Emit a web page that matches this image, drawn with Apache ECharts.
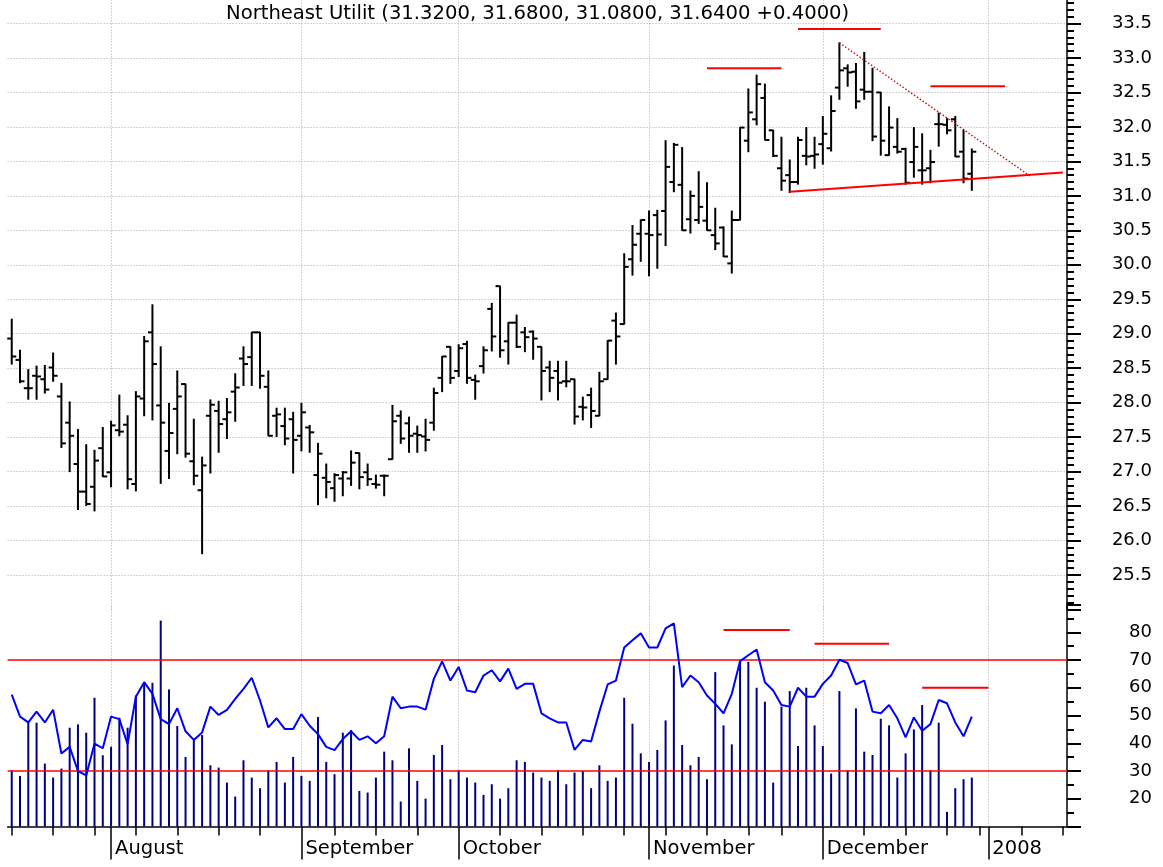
<!DOCTYPE html>
<html>
<head>
<meta charset="utf-8">
<title>Northeast Utilit</title>
<script src="https://cdn.jsdelivr.net/npm/echarts@6.0.0/dist/echarts.min.js"></script>
<style>
  html, body { margin: 0; padding: 0; background: #fff; }
  #chart { width: 1163px; height: 867px; }
</style>
</head>
<body>
<div id="chart"></div>
<script>
// 日线 OHLC + RSI / 成交量
const titleText = 'Northeast Utilit (31.3200, 31.6800, 31.0800, 31.6400 +0.4000)';

const firstDay = '2007-07-16';
const holidays = ['2007-09-03', '2007-11-22', '2007-12-25'];
const slotCount = 128; // 含右侧留白的位置数
const monthNames = ['January', 'February', 'March', 'April', 'May', 'June', 'July',
  'August', 'September', 'October', 'November', 'December'];

const open = [28.93, 28.62, 28.21, 28.39, 28.34, 28.51, 28.09, 27.71, 27.11, 26.71,
  26.78, 27.34, 26.99, 27.60, 27.68, 26.82, 28.06, 29.02, 27.96, 27.30,
  27.91, 28.27, 27.15, 26.73, 27.81, 27.88, 27.76, 28.16, 28.64, 28.66,
  29.02, 28.23, 27.81, 27.66, 27.76, 27.52, 27.64, 26.95, 26.91, 26.76,
  26.90, 26.90, 27.27, 26.99, 26.82, 26.94, 27.18, 27.81, 27.70, 27.55,
  27.51, 27.71, 28.36, 28.81, 28.46, 28.85, 28.33, 28.53, 29.36, 29.69,
  28.89, 29.16, 29.02, 29.03, 28.81, 28.51, 28.46, 28.31, 28.34, 27.94,
  28.11, 27.81, 28.34, 29.19, 29.14, 30.08, 30.45, 30.45, 30.72, 30.78,
  31.20, 31.16, 30.66, 30.65, 30.64, 30.43, 30.54, 30.02, 30.65, 31.80,
  32.11, 32.42, 31.95, 31.40, 31.30, 31.20, 31.58, 31.58, 31.75, 31.69,
  32.57, 32.85, 32.80, 32.54, 32.51, 32.50, 31.59, 31.71, 31.68, 31.49,
  31.37, 31.40, 32.04, 32.03, 32.11, 31.64, 31.32];
const high = [29.21, 28.76, 28.48, 28.53, 28.54, 28.72, 28.28, 28.01, 27.61, 27.39,
  27.31, 27.64, 27.73, 28.11, 27.81, 28.16, 28.96, 29.42, 28.81, 27.99,
  28.46, 28.27, 27.76, 27.21, 28.04, 28.02, 28.06, 28.42, 28.81, 29.02,
  29.02, 28.46, 27.92, 27.92, 27.86, 27.99, 27.67, 27.41, 27.11, 26.97,
  27.00, 27.30, 27.27, 27.11, 26.95, 26.95, 27.96, 27.88, 27.79, 27.66,
  27.76, 28.21, 28.67, 28.81, 28.84, 28.89, 28.40, 28.81, 29.44, 29.69,
  29.16, 29.27, 29.09, 29.04, 28.81, 28.60, 28.60, 28.60, 28.34, 28.08,
  28.21, 28.44, 28.90, 29.30, 30.16, 30.57, 30.65, 30.78, 30.79, 31.80,
  31.76, 31.70, 31.07, 31.35, 31.19, 30.82, 30.55, 30.78, 31.99, 32.55,
  32.75, 32.62, 31.95, 31.85, 31.52, 31.85, 31.99, 31.85, 32.15, 32.45,
  33.22, 32.90, 32.92, 33.08, 32.85, 32.50, 32.29, 32.12, 31.69, 31.99,
  31.90, 31.66, 32.20, 32.12, 32.15, 31.95, 31.68];
const low = [28.56, 28.29, 28.05, 28.05, 28.14, 28.31, 27.35, 27.00, 26.45, 26.51,
  26.43, 26.93, 26.78, 27.52, 26.75, 26.72, 27.81, 27.75, 26.83, 26.90,
  27.26, 27.21, 26.81, 25.81, 26.98, 27.28, 27.48, 27.73, 28.25, 28.25,
  28.21, 27.52, 27.51, 27.39, 26.98, 27.30, 27.28, 26.52, 26.62, 26.57,
  26.65, 26.80, 26.75, 26.80, 26.76, 26.65, 27.18, 27.41, 27.28, 27.28,
  27.30, 27.60, 28.16, 28.28, 28.38, 28.28, 28.05, 28.43, 28.75, 28.66,
  28.56, 28.80, 28.74, 28.63, 28.04, 28.16, 28.04, 28.23, 27.69, 27.75,
  27.64, 27.81, 28.34, 28.56, 29.14, 29.85, 30.05, 29.84, 29.95, 30.28,
  31.06, 30.50, 30.46, 30.60, 30.50, 30.22, 30.12, 29.88, 30.65, 31.64,
  32.03, 31.81, 31.57, 31.08, 31.05, 31.17, 31.45, 31.40, 31.46, 31.65,
  32.40, 32.59, 32.27, 32.40, 31.80, 31.59, 31.59, 31.62, 31.17, 31.27,
  31.17, 31.19, 31.72, 31.90, 31.57, 31.19, 31.08];
const close = [28.67, 28.31, 28.21, 28.38, 28.19, 28.39, 27.41, 27.52, 26.71, 26.53,
  27.16, 26.93, 27.67, 27.58, 26.89, 28.09, 28.89, 28.56, 27.71, 27.56,
  28.09, 27.26, 26.94, 27.09, 27.97, 27.69, 27.86, 28.22, 28.56, 29.02,
  28.39, 27.52, 27.83, 27.48, 27.46, 27.86, 27.57, 27.26, 26.85, 26.95,
  26.99, 27.13, 26.92, 26.89, 26.81, 26.94, 27.73, 27.48, 27.52, 27.53,
  27.46, 28.14, 28.67, 28.36, 28.79, 28.36, 28.31, 28.76, 28.96, 28.76,
  29.16, 28.81, 28.95, 28.93, 28.46, 28.36, 28.29, 28.31, 27.80, 27.93,
  27.88, 28.31, 28.90, 28.96, 29.97, 30.29, 30.65, 30.43, 30.44, 31.42,
  31.74, 30.50, 31.00, 30.84, 30.50, 30.31, 30.12, 30.65, 31.99, 32.21,
  32.62, 31.81, 31.58, 31.22, 31.20, 31.81, 31.57, 31.60, 31.90, 32.23,
  32.82, 32.79, 32.37, 32.51, 31.86, 31.80, 31.99, 31.64, 31.19, 31.71,
  31.37, 31.49, 32.04, 31.95, 31.57, 31.25, 31.64];

const rsi = [57.5, 49.6, 47.5, 51.4, 47.5, 52.1, 36.3, 38.7, 30.0, 28.4,
  39.9, 38.2, 49.6, 48.7, 39.7, 56.8, 62.0, 57.8, 48.7, 46.9,
  52.6, 44.3, 41.2, 43.9, 53.2, 50.2, 52.0, 56.0, 59.6, 63.6,
  55.4, 45.7, 49.0, 45.1, 45.1, 50.5, 46.3, 43.3, 38.7, 37.5,
  41.5, 44.3, 41.2, 42.5, 40.0, 42.5, 56.8, 52.6, 53.2, 53.2,
  52.1, 63.2, 69.5, 62.6, 67.5, 59.0, 58.4, 64.4, 66.3, 62.3,
  66.9, 59.6, 61.4, 61.4, 50.8, 49.0, 47.5, 47.5, 37.6, 41.2,
  40.6, 51.4, 61.2, 62.6, 74.5, 77.1, 79.6, 74.5, 74.5, 81.4,
  83.2, 60.2, 64.4, 62.0, 57.2, 54.2, 50.8, 57.8, 69.6, 71.7,
  73.8, 62.0, 59.0, 53.8, 53.2, 60.0, 56.8, 56.8, 61.4, 64.4,
  70.1, 68.9, 61.2, 62.6, 51.4, 50.8, 53.8, 49.0, 42.1, 49.3,
  44.5, 46.9, 55.6, 54.4, 47.5, 42.5, 49.6];

// 成交量(千股)
const volume = [608, 547, 1140, 1122, 680, 529, 626, 1068, 1104, 1014,
  1392, 770, 863, 1176, 1068, 1417, 1561, 1553, 2226, 1482,
  1086, 752, 953, 989, 662, 637, 475, 324, 716, 529,
  414, 608, 698, 475, 752, 547, 493, 1183, 698, 565,
  1014, 1043, 385, 367, 529, 809, 716, 270, 845, 493,
  302, 773, 881, 511, 608, 529, 475, 342, 457, 302,
  414, 716, 698, 583, 529, 493, 608, 457, 583, 601,
  414, 662, 493, 529, 1392, 1111, 791, 698, 827, 1147,
  1740, 881, 662, 752, 511, 1669, 1093, 888, 1794, 1780,
  1500, 1349, 475, 1295, 1464, 870, 1500, 1093, 870, 572,
  1464, 608, 1277, 809, 773, 1165, 1093, 529, 791, 1050,
  1313, 608, 1122, 158, 414, 511, 529];

// 红色标注线: [起点序号, 值, 终点序号, 值]
const priceMarks = [
  [84, 32.85, 93, 32.85],
  [95, 33.42, 105, 33.42],
  [111, 32.59, 120, 32.59],
  [94, 31.06, 127, 31.34]
];
const resistanceMark = [100, 33.22, 123, 31.29];
const rsiMarks = [
  [86, 80.8, 94, 80.8],
  [97, 75.9, 106, 75.9],
  [110, 60.0, 118, 60.0]
];
const rsiLevels = [70, 30];

const font = 'DejaVu Sans';
const gridGray = '#aaaaaa';

// 交易日序列
const days = [];
(function () {
  const d = new Date(firstDay + 'T00:00:00Z');
  while (days.length < slotCount) {
    const s = d.toISOString().slice(0, 10);
    const wd = d.getUTCDay();
    if (wd !== 0 && wd !== 6 && holidays.indexOf(s) < 0) days.push(s);
    d.setUTCDate(d.getUTCDate() + 1);
  }
})();
const dow = s => new Date(s + 'T00:00:00Z').getUTCDay();
const weekStart = i => i === 0 || dow(days[i]) < dow(days[i - 1]);
const monthStart = i => i > 0 && days[i].slice(5, 7) !== days[i - 1].slice(5, 7);
const monthLabel = v => v.slice(5, 7) === '01' ? v.slice(0, 4) : monthNames[+v.slice(5, 7) - 1];
const monthLines = days.filter((d, i) => monthStart(i)).map(d => ({ xAxis: d }));

const segment = (m, axisIdx, style) => ({
  type: 'line',
  xAxisIndex: axisIdx,
  yAxisIndex: axisIdx,
  data: [[days[m[0]], m[1]], [days[m[2]], m[3]]],
  symbol: 'none',
  silent: true,
  z: 3,
  lineStyle: style
});

const chart = echarts.init(document.getElementById('chart'));

const option = {
  animation: false,
  backgroundColor: '#fff',
  title: {
    text: titleText,
    left: 226,
    top: 4,
    padding: 0,
    textStyle: { fontFamily: font, fontSize: 19.6, fontWeight: 'normal', color: '#000' }
  },
  grid: [
    { left: 7.6, right: 96, top: -11, height: 620.5, outerBoundsMode: 'none' },
    { left: 7.6, right: 96, top: 604.5, height: 222, outerBoundsMode: 'none' },
    { left: 7.6, right: 96, top: 604.5, height: 222, outerBoundsMode: 'none' }
  ],
  xAxis: [
    {
      gridIndex: 0, type: 'category', data: days,
      axisLine: { show: false }, axisTick: { show: false },
      axisLabel: { show: false }, splitLine: { show: false }
    },
    {
      gridIndex: 1, type: 'category', data: days, position: 'bottom',
      axisLine: { show: true, lineStyle: { color: '#000', width: 1.5 } },
      axisTick: {
        show: true, alignWithLabel: true, length: 9,
        interval: i => weekStart(i),
        lineStyle: { color: '#000', width: 1.5 }
      },
      axisLabel: { show: false },
      splitLine: { show: false }
    },
    {
      gridIndex: 2, type: 'category', data: days, position: 'bottom',
      axisLine: { show: false },
      axisTick: {
        show: true, alignWithLabel: true, length: 33,
        interval: i => monthStart(i),
        lineStyle: { color: '#000', width: 1.5 }
      },
      axisLabel: {
        show: true,
        interval: i => monthStart(i),
        formatter: monthLabel,
        align: 'left',
        padding: [0, 0, 0, 4],
        margin: 12,
        fontFamily: font, fontSize: 19.5, color: '#000'
      },
      splitLine: { show: false }
    }
  ],
  yAxis: [
    {
      gridIndex: 0, type: 'value', position: 'right',
      min: 25, max: 34, interval: 0.5,
      axisLine: { show: true, lineStyle: { color: '#000', width: 1.5 } },
      axisTick: { show: true, length: 14, lineStyle: { color: '#000', width: 2 } },
      minorTick: { show: true, splitNumber: 5, length: 7, lineStyle: { color: '#000', width: 2 } },
      axisLabel: {
        formatter: v => v.toFixed(1),
        showMinLabel: false, showMaxLabel: false,
        align: 'right', margin: 85,
        padding: [11, 0, 0, 0],
        fontFamily: font, fontSize: 18, color: '#000'
      },
      splitLine: {
        show: true, showMinLine: false, showMaxLine: false,
        lineStyle: { color: gridGray, type: [1, 2], width: 1 }
      }
    },
    {
      gridIndex: 1, type: 'value', position: 'right',
      min: 10, max: 90, interval: 10,
      axisLine: { show: true, lineStyle: { color: '#000', width: 1.5 } },
      axisTick: { show: true, length: 14, lineStyle: { color: '#000', width: 2 } },
      minorTick: { show: true, splitNumber: 2, length: 7, lineStyle: { color: '#000', width: 2 } },
      axisLabel: {
        showMinLabel: false, showMaxLabel: false,
        align: 'right', margin: 85,
        padding: [8, 0, 0, 0],
        fontFamily: font, fontSize: 18, color: '#000'
      },
      splitLine: { show: false }
    },
    { gridIndex: 1, type: 'value', min: 0, max: 2400, show: false },
    { gridIndex: 2, type: 'value', show: false }
  ],
  series: [
    {
      name: 'price',
      type: 'custom',
      xAxisIndex: 0,
      yAxisIndex: 0,
      z: 2,
      clip: false,
      data: open.map((o, i) => [i, o, high[i], low[i], close[i]]),
      encode: { x: 0, y: [1, 2, 3, 4] },
      renderItem: function (params, api) {
        const x = api.value(0);
        const o = api.coord([x, api.value(1)]);
        const h = api.coord([x, api.value(2)]);
        const l = api.coord([x, api.value(3)]);
        const c = api.coord([x, api.value(4)]);
        const style = { stroke: '#000', lineWidth: 2 };
        return {
          type: 'group',
          children: [
            { type: 'line', shape: { x1: h[0], y1: h[1] - 0.5, x2: l[0], y2: l[1] + 0.5 }, style: style },
            { type: 'line', shape: { x1: o[0] - 4.5, y1: o[1], x2: o[0], y2: o[1] }, style: style },
            { type: 'line', shape: { x1: c[0], y1: c[1], x2: c[0] + 4.5, y2: c[1] }, style: style }
          ]
        };
      }
    },
    Object.assign(segment(priceMarks[0], 0, { color: '#ff0000', width: 2 }), {
      markLine: {
        z: 1, silent: true, symbol: ['none', 'none'],
        label: { show: false },
        lineStyle: { color: gridGray, type: [1, 2], width: 1 },
        emphasis: { disabled: true },
        data: monthLines
      }
    }),
    ...priceMarks.slice(1).map(m => segment(m, 0, { color: '#ff0000', width: 2 })),
    segment(resistanceMark, 0, { color: '#ff0000', width: 1.5, type: [1.5, 2] }),
    {
      name: 'volume',
      type: 'bar',
      xAxisIndex: 1,
      yAxisIndex: 2,
      barWidth: 2,
      z: 2,
      itemStyle: { color: '#000080' },
      data: volume,
      markLine: {
        z: 1, silent: true, symbol: ['none', 'none'],
        label: { show: false },
        lineStyle: { color: gridGray, type: [1, 2], width: 1 },
        emphasis: { disabled: true },
        data: monthLines
      }
    },
    {
      name: 'RSI',
      type: 'line',
      xAxisIndex: 1,
      yAxisIndex: 1,
      z: 4,
      showSymbol: false,
      symbol: 'none',
      lineStyle: { color: '#0000ff', width: 2 },
      itemStyle: { color: '#0000ff' },
      data: rsi,
      markLine: {
        z: 3, silent: true, symbol: ['none', 'none'],
        label: { show: false },
        lineStyle: { color: '#ff0000', type: 'solid', width: 1.5 },
        emphasis: { disabled: true },
        data: rsiLevels.map(v => ({ yAxis: v }))
      }
    },
    ...rsiMarks.map(m => segment(m, 1, { color: '#ff0000', width: 2 }))
  ]
};

chart.setOption(option);
</script>
</body>
</html>
